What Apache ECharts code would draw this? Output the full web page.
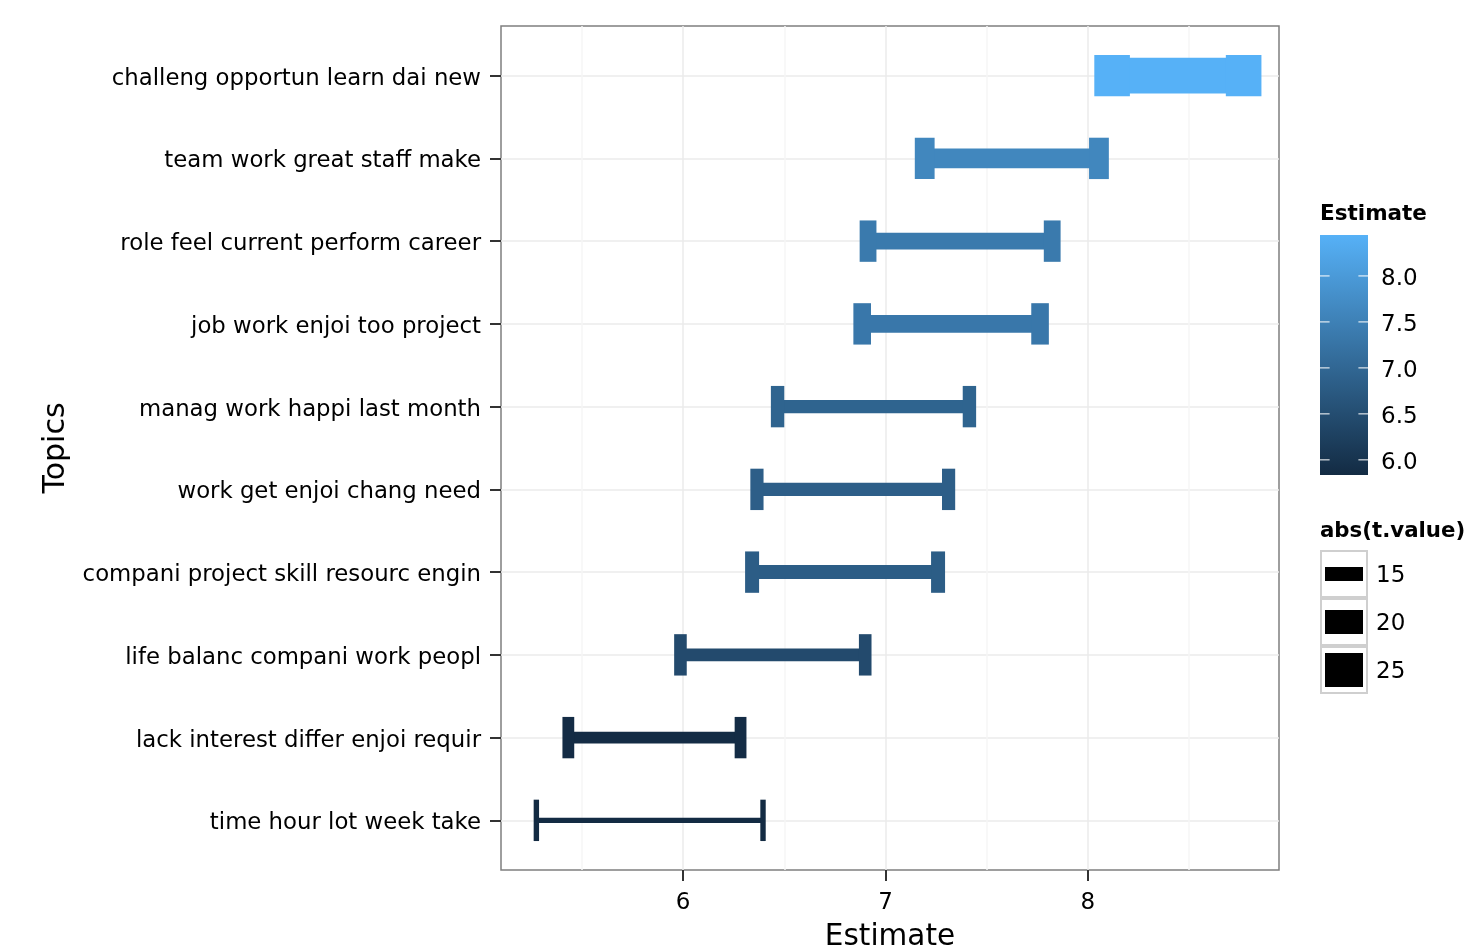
<!DOCTYPE html>
<html><head><meta charset="utf-8">
<script src="https://cdn.jsdelivr.net/npm/echarts@6/dist/echarts.min.js"></script>
<style>html,body{margin:0;padding:0;background:#fff;}#chart{width:1471px;height:947px;}</style>
</head><body><div id="chart"></div>
<script>
// ---- data (top to bottom as drawn) ----
const topics = [
  'challeng opportun learn dai new',
  'team work great staff make',
  'role feel current perform career',
  'job work enjoi too project',
  'manag work happi last month',
  'work get enjoi chang need',
  'compani project skill resourc engin',
  'life balanc compani work peopl',
  'lack interest differ enjoi requir',
  'time hour lot week take'
];
const estimates = [8.445, 7.625, 7.369, 7.324, 6.941, 6.838, 6.800, 6.444, 5.858, 5.835];
const lowerCI   = [8.120, 7.194, 6.914, 6.885, 6.467, 6.365, 6.341, 5.987, 5.433, 5.275];
const upperCI   = [8.770, 8.055, 7.824, 7.764, 7.415, 7.312, 7.260, 6.900, 6.284, 6.395];
const tValues   = [25.9, 18.0, 16.5, 16.9, 14.8, 14.7, 15.1, 14.4, 14.0, 10.8];
const xTicks = [6, 7, 8];
const xMinorTicks = [5.5, 6.5, 7.5, 8.5];
const colorBreaks = [6.0, 6.5, 7.0, 7.5, 8.0];
const sizeBreaks = [15, 20, 25];

// ---- styling constants ----
const COLOR_LOW = '#132B43', COLOR_HIGH = '#56B1F7';
const FONT = 'DejaVu Sans';
const estMin = Math.min(...estimates), estMax = Math.max(...estimates);
function lineWidthFor(t) { return 13.8 + 2.0 * (t - 15); }

// x range with ggplot-style 5% expansion
const dataLo = Math.min(...lowerCI), dataHi = Math.max(...upperCI);
const pad = 0.05 * (dataHi - dataLo);
const xMin = dataLo - pad, xMax = dataHi + pad;

const mainData = topics.map((t, i) => [i + 1, lowerCI[i], upperCI[i], estimates[i], tValues[i]]);
const yPositions = topics.map((t, i) => i + 1);

const chart = echarts.init(document.getElementById('chart'), null, {renderer: 'canvas'});
const option = {
  backgroundColor: '#ffffff',
  animation: false,
  textStyle: {fontFamily: FONT},
  title: [
    {text: 'Estimate', left: 1320, top: 203, padding: 0,
     textStyle: {fontFamily: FONT, fontSize: 21.5, fontWeight: 'bold', color: '#000'}},
    {text: 'abs(t.value)', left: 1320, top: 521, padding: 0,
     textStyle: {fontFamily: FONT, fontSize: 21.3, fontWeight: 'bold', color: '#000'}}
  ],
  grid: [
    {left: 501, right: 192, top: 26, bottom: 77, show: true, borderColor: '#7F7F7F', borderWidth: 1.5,
     backgroundColor: '#fff', containLabel: false, outerBoundsMode: 'none'},
    {left: 1320, width: 48, top: 235, height: 240, containLabel: false, outerBoundsMode: 'none'},
    {left: 1320, width: 48, top: 550, height: 144, containLabel: false, outerBoundsMode: 'none'}
  ],
  visualMap: {
    type: 'continuous', show: false, seriesIndex: 0, dimension: 3,
    min: estMin, max: estMax, inRange: {color: [COLOR_LOW, COLOR_HIGH]}
  },
  xAxis: [
    {type: 'value', gridIndex: 0, position: 'bottom', min: xMin, max: xMax,
     axisLine: {show: false}, axisLabel: {show: false},
     axisTick: {show: false, customValues: xMinorTicks},
     splitLine: {show: true, lineStyle: {color: '#F6F6F6', width: 1.5}}},
    {type: 'value', gridIndex: 0, position: 'bottom', min: xMin, max: xMax,
     name: 'Estimate', nameLocation: 'middle', nameGap: 52,
     nameTextStyle: {fontFamily: FONT, fontSize: 29.5, color: '#000'},
     axisLine: {show: false},
     axisTick: {show: true, length: 11, customValues: xTicks, lineStyle: {color: '#333', width: 2}},
     axisLabel: {customValues: xTicks, margin: 22, fontFamily: FONT, fontSize: 23, color: '#000'},
     splitLine: {show: true, lineStyle: {color: '#EBEBEB', width: 1.5}}},
    {type: 'value', gridIndex: 1, min: 0, max: 1, show: false},
    {type: 'value', gridIndex: 2, min: 0, max: 1, show: false}
  ],
  yAxis: [
    {type: 'value', gridIndex: 0, position: 'left', min: 0.4, max: 10.6, inverse: true,
     name: 'Topics', nameLocation: 'middle', nameGap: 423, nameRotate: 90,
     nameTextStyle: {fontFamily: FONT, fontSize: 30, color: '#000'},
     axisLine: {show: false},
     axisTick: {show: true, length: 11, customValues: yPositions, lineStyle: {color: '#333', width: 2}},
     axisLabel: {customValues: yPositions, margin: 20, fontFamily: FONT, fontSize: 22.8, color: '#000',
                 verticalAlign: 'top', lineHeight: 6,
                 formatter: v => topics[Math.round(v) - 1] || ''},
     splitLine: {show: true, lineStyle: {color: '#EBEBEB', width: 1.5}}},
    {type: 'value', gridIndex: 1, min: estMin, max: estMax, position: 'right',
     axisLine: {show: false}, splitLine: {show: false},
     axisTick: {show: false, customValues: colorBreaks},
     axisLabel: {customValues: colorBreaks, margin: 13, fontFamily: FONT, fontSize: 23, color: '#000',
                 verticalAlign: 'top', lineHeight: 6,
                 formatter: v => Number(v).toFixed(1)}},
    {type: 'category', gridIndex: 2, inverse: true, position: 'right', data: sizeBreaks.map(String),
     axisLine: {show: false}, axisTick: {show: false}, splitLine: {show: false},
     axisLabel: {margin: 8, fontFamily: FONT, fontSize: 23, color: '#000', verticalAlign: 'top', lineHeight: 5}}
  ],
  series: [
    {
      type: 'custom', xAxisIndex: 1, yAxisIndex: 0,
      encode: {x: [1, 2], y: 0},
      data: mainData,
      renderItem: function (params, api) {
        const y = api.value(0), lo = api.value(1), hi = api.value(2), t = api.value(4);
        const p1 = api.coord([lo, y]), p2 = api.coord([hi, y]);
        const ca = api.coord([lo, y - 0.25])[1], cb = api.coord([lo, y + 0.25])[1];
        const capTop = Math.min(ca, cb), capH = Math.abs(cb - ca);
        const w = lineWidthFor(t);
        const color = api.visual('color');
        return {
          type: 'group',
          children: [
            {type: 'rect', shape: {x: p1[0], y: p1[1] - w / 2, width: p2[0] - p1[0], height: w}, style: {fill: color}},
            {type: 'rect', shape: {x: p1[0] - w / 2, y: capTop, width: w, height: capH}, style: {fill: color}},
            {type: 'rect', shape: {x: p2[0] - w / 2, y: capTop, width: w, height: capH}, style: {fill: color}}
          ]
        };
      }
    },
    {
      type: 'custom', xAxisIndex: 2, yAxisIndex: 1, silent: true,
      data: [[estMin, estMax]],
      renderItem: function (params, api) {
        const a = api.coord([0, api.value(1)]), b = api.coord([1, api.value(0)]);
        return {
          type: 'rect',
          shape: {x: a[0], y: a[1], width: b[0] - a[0], height: b[1] - a[1]},
          style: {fill: {type: 'linear', x: 0, y: 0, x2: 0, y2: 1,
                  colorStops: [{offset: 0, color: COLOR_HIGH}, {offset: 1, color: COLOR_LOW}]}}
        };
      }
    },
    {
      type: 'custom', xAxisIndex: 2, yAxisIndex: 1, silent: true,
      data: colorBreaks.map(v => [v]),
      encode: {y: 0},
      renderItem: function (params, api) {
        const a = api.coord([0, api.value(0)]), b = api.coord([1, api.value(0)]);
        const len = (b[0] - a[0]) / 5;
        return {
          type: 'group',
          children: [
            {type: 'line', shape: {x1: a[0], y1: a[1], x2: a[0] + len, y2: a[1]}, style: {stroke: '#fff', lineWidth: 1.2, opacity: 0.85}},
            {type: 'line', shape: {x1: b[0] - len, y1: b[1], x2: b[0], y2: b[1]}, style: {stroke: '#fff', lineWidth: 1.2, opacity: 0.85}}
          ]
        };
      }
    },
    {
      type: 'custom', xAxisIndex: 3, yAxisIndex: 2, silent: true,
      data: sizeBreaks.map((t, i) => [i, t]),
      encode: {y: 0},
      renderItem: function (params, api) {
        const i = api.value(0), t = api.value(1);
        const a = api.coord([0, i]), b = api.coord([1, i]);
        const band = api.size([0, 1])[1];
        const w = lineWidthFor(t);
        return {
          type: 'group',
          children: [
            {type: 'rect', shape: {x: a[0] + 1, y: a[1] - band / 2 + 1, width: b[0] - a[0] - 2, height: band - 2},
             style: {fill: '#fff', stroke: '#CFCFCF', lineWidth: 2}},
            {type: 'rect', shape: {x: a[0] + 5, y: a[1] - w / 2, width: b[0] - a[0] - 10, height: w},
             style: {fill: '#000'}}
          ]
        };
      }
    }
  ]
};
chart.setOption(option);
</script>
</body></html>
